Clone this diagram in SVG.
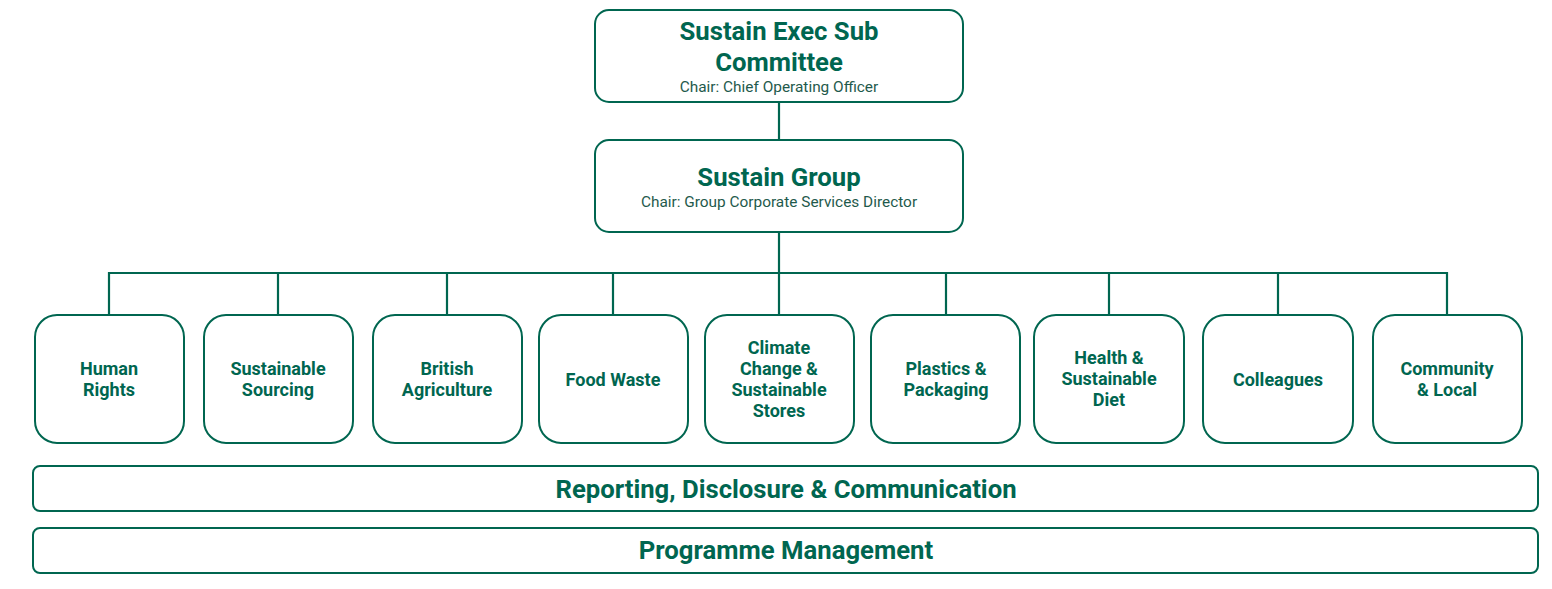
<svg xmlns="http://www.w3.org/2000/svg" width="1552" height="589" viewBox="0 0 1552 589">
<style>
.box{fill:#fff;stroke:#006650;stroke-width:2}
.bar{fill:#fff;stroke:#006650;stroke-width:2}
.conn{fill:none;stroke:#006650;stroke-width:2.2}
text{font-family:Roboto,"Liberation Sans",sans-serif;fill:#006650;text-anchor:middle}
.t{font-size:25.7px;font-weight:bold}
.s{font-size:15.4px;font-weight:normal;fill:#1f5a4c}
.n{font-size:18px;font-weight:bold}
</style>
<rect width="1552" height="589" fill="#fff"/>
<g id="connectors">
<path class="conn" d="M779 102V140"/>
<path class="conn" d="M779 232V273"/>
<path class="conn" d="M109 315V273H1447V315"/>
<path class="conn" d="M278 273V315M447 273V315M613 273V315M779 273V315M946 273V315M1109 273V315M1278 273V315"/>
</g>
<g id="exec">
<rect class="box" x="595" y="10" width="368" height="92" rx="14"/>
<text class="t" x="779" y="40">Sustain Exec Sub</text>
<text class="t" x="779" y="71">Committee</text>
<text class="s" x="779" y="92">Chair: Chief Operating Officer</text>
</g>
<g id="group">
<rect class="box" x="595" y="140" width="368" height="92" rx="14"/>
<text class="t" x="779" y="186">Sustain Group</text>
<text class="s" x="779" y="207">Chair: Group Corporate Services Director</text>
</g>
<g id="human-rights">
<rect class="box" x="35" y="315" width="149" height="128" rx="22"/>
<text class="n" x="109" y="375">Human</text>
<text class="n" x="109" y="396">Rights</text>
</g>
<g id="sustainable-sourcing">
<rect class="box" x="204" y="315" width="149" height="128" rx="22"/>
<text class="n" x="278" y="375">Sustainable</text>
<text class="n" x="278" y="396">Sourcing</text>
</g>
<g id="british-agriculture">
<rect class="box" x="373" y="315" width="149" height="128" rx="22"/>
<text class="n" x="447" y="375">British</text>
<text class="n" x="447" y="396">Agriculture</text>
</g>
<g id="food-waste">
<rect class="box" x="539" y="315" width="149" height="128" rx="22"/>
<text class="n" x="613" y="386">Food Waste</text>
</g>
<g id="climate">
<rect class="box" x="705" y="315" width="149" height="128" rx="22"/>
<text class="n" x="779" y="354">Climate</text>
<text class="n" x="779" y="375">Change &amp;</text>
<text class="n" x="779" y="396">Sustainable</text>
<text class="n" x="779" y="417">Stores</text>
</g>
<g id="plastics">
<rect class="box" x="871" y="315" width="149" height="128" rx="22"/>
<text class="n" x="946" y="375">Plastics &amp;</text>
<text class="n" x="946" y="396">Packaging</text>
</g>
<g id="health">
<rect class="box" x="1034" y="315" width="150" height="128" rx="22"/>
<text class="n" x="1109" y="364">Health &amp;</text>
<text class="n" x="1109" y="385">Sustainable</text>
<text class="n" x="1109" y="406">Diet</text>
</g>
<g id="colleagues">
<rect class="box" x="1203" y="315" width="150" height="128" rx="22"/>
<text class="n" x="1278" y="386">Colleagues</text>
</g>
<g id="community">
<rect class="box" x="1373" y="315" width="149" height="128" rx="22"/>
<text class="n" x="1447" y="375">Community</text>
<text class="n" x="1447" y="396">&amp; Local</text>
</g>
<g id="reporting">
<rect class="bar" x="33" y="466" width="1505" height="45" rx="7"/>
<text class="t" x="786" y="498">Reporting, Disclosure &amp; Communication</text>
</g>
<g id="programme">
<rect class="bar" x="33" y="528" width="1505" height="45" rx="7"/>
<text class="t" x="786" y="559">Programme Management</text>
</g>
</svg>
